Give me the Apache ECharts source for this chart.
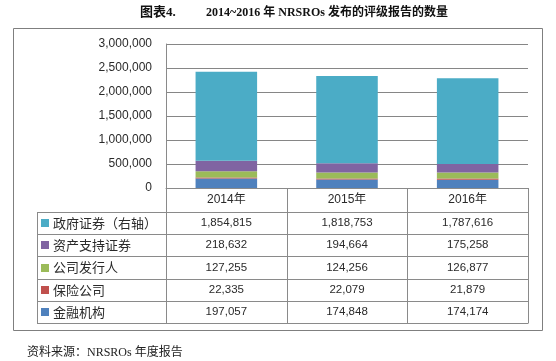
<!DOCTYPE html>
<html>
<head>
<meta charset="utf-8">
<script src="https://cdn.jsdelivr.net/npm/echarts@6/dist/echarts.min.js"></script>
<style>html,body{margin:0;padding:0;background:#fff;}#c{width:556px;height:361px;}</style>
</head>
<body>
<div id="c"></div>
<script>
const categories = ['2014年', '2015年', '2016年'];
const finance = [197057, 174848, 174174];
const insurance = [22335, 22079, 21879];
const corporate = [127255, 124256, 126877];
const absSec = [218632, 194664, 175258];
const gov = [1854815, 1818753, 1787616];
const names = ['金融机构', '保险公司', '公司发行人', '资产支持证券', '政府证券（右轴）'];
const colors = ['#4F81BD', '#C0504D', '#9BBB59', '#8064A2', '#4BACC6'];
const stackData = [finance, insurance, corporate, absSec, gov];
const yMin = 0, yMax = 3000000, yStep = 500000;
const titleText = '图表4.';
const titleText2 = '2014~2016 年 NRSROs 发布的评级报告的数量';
const sourceText = '资料来源：NRSROs 年度报告';

const fmt = v => v.toLocaleString('en-US');
const chart = echarts.init(document.getElementById('c'), null, {renderer: 'canvas'});

const G = {left: 166, top: 44, right: 28, bottom: 173};
const lineCol = '#8a8a8a';
const txtCol = '#2a2a2a';

chart.setOption({
  animation: false,
  grid: {left: G.left, top: G.top, right: G.right, bottom: G.bottom, containLabel: false},
  xAxis: {
    type: 'category', data: categories,
    axisLine: {show: true, lineStyle: {color: lineCol}},
    axisTick: {show: false},
    axisLabel: {margin: 6, color: txtCol, fontSize: 12, fontFamily: '"Liberation Sans", "Noto Sans CJK SC"', lineHeight: 12}
  },
  yAxis: {
    type: 'value', min: yMin, max: yMax, interval: yStep,
    axisLine: {show: true, lineStyle: {color: lineCol}},
    axisTick: {show: false},
    splitLine: {lineStyle: {color: '#868686'}},
    axisLabel: {margin: 14, color: txtCol, fontSize: 12, fontFamily: '"Liberation Sans"', formatter: v => fmt(v)}
  },
  series: stackData.map((d, i) => ({
    type: 'bar', name: names[i], stack: 'all', data: d, barWidth: '51%',
    itemStyle: {color: colors[i]}
  }))
});

// build table from data using axis pixel positions
const x0 = chart.convertToPixel({xAxisIndex: 0}, 0);
const x1 = chart.convertToPixel({xAxisIndex: 0}, 1);
const colW = x1 - x0;
const plotLeft = G.left, plotRight = 556 - G.right;
const axisY = 361 - G.bottom;
const tableTop = axisY + 24;
const rowH = 22.2;
const legendLeft = 37;
const rows = [4, 3, 2, 1, 0];
const tableBottom = tableTop + rowH * rows.length;
const g = [];
const ln = (xa, ya, xb, yb) => g.push({type: 'line', shape: {x1: xa, y1: ya, x2: xb, y2: yb}, style: {stroke: lineCol, lineWidth: 1}, z: 10});
for (let r = 0; r <= rows.length; r++) {
  const y = Math.round(tableTop + r * rowH) + 0.5;
  ln(legendLeft, y, plotRight, y);
}
ln(legendLeft + 0.5, tableTop, legendLeft + 0.5, tableBottom);
for (let c = 0; c <= categories.length; c++) {
  const x = Math.round(plotLeft + c * colW) + 0.5;
  ln(x, axisY, x, Math.round(tableBottom) + 0.5);
}
rows.forEach((si, r) => {
  const cy = tableTop + (r + 0.5) * rowH;
  g.push({type: 'rect', shape: {x: 41, y: Math.round(cy) - 4, width: 8, height: 8}, style: {fill: colors[si]}, z: 10});
  g.push({type: 'text', x: 53, y: cy, style: {text: names[si], fill: txtCol, font: '13px "Noto Sans CJK SC"', textVerticalAlign: 'middle', textAlign: 'left'}, z: 10});
  stackData[si].forEach((v, c) => {
    const cx = chart.convertToPixel({xAxisIndex: 0}, c);
    g.push({type: 'text', x: cx, y: cy, style: {text: fmt(v), fill: txtCol, font: '11.5px "Liberation Sans"', textVerticalAlign: 'middle', textAlign: 'center'}, z: 10});
  });
});
g.push({type: 'rect', shape: {x: 13.5, y: 28.5, width: 529, height: 302}, style: {fill: 'none', stroke: '#7f7f7f', lineWidth: 1}, z: 1});
g.push({type: 'text', x: 140, y: 12.5, style: {text: titleText, fill: '#111', font: 'bold 13px "Liberation Serif", "Noto Sans CJK SC"', textVerticalAlign: 'middle'}});
g.push({type: 'text', x: 206, y: 12.5, style: {text: titleText2, fill: '#111', font: 'bold 12px "Liberation Serif", "Noto Sans CJK SC"', textVerticalAlign: 'middle'}});
g.push({type: 'text', x: 27, y: 352.5, style: {text: sourceText, fill: '#222', font: '12px "Liberation Serif", "Noto Sans CJK SC"', textVerticalAlign: 'middle'}});

chart.setOption({graphic: {elements: g}});
</script>
</body>
</html>
